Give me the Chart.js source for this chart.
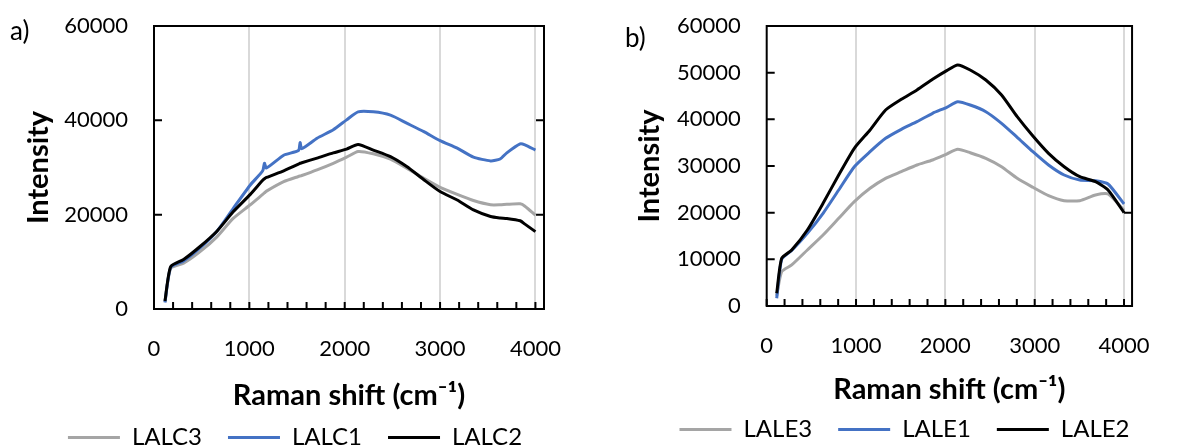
<!DOCTYPE html>
<html>
<head>
<meta charset="utf-8">
<script src="https://cdn.jsdelivr.net/npm/chart.js@4.4.1/dist/chart.umd.min.js"></script>
<style>
  body { margin: 0; background: #fff; width: 1177px; height: 448px; overflow: hidden; position: relative; font-family: Lato, sans-serif; }
  canvas { position: absolute; top: 0; }
  #chartA { left: 0; }
  #chartB { left: 632px; }
  .panel { position: absolute; font-size: 26px; color: #000; line-height: 1; }
</style>
</head>
<body>
<canvas id="chartA" width="590" height="448"></canvas>
<canvas id="chartB" width="545" height="448"></canvas>
<div class="panel" style="left:10px; top:17px;">a)</div>
<div class="panel" style="left:625px; top:24px;">b)</div>
<script>
// Datos (Raman shift en cm-1, intensidad)
const xTicks = [0, 1000, 2000, 3000, 4000];
const yTicksA = [0, 20000, 40000, 60000];
const yTicksB = [0, 10000, 20000, 30000, 40000, 50000, 60000];

// Panel a)
const shiftA = [115, 175, 310, 480, 660, 830, 1010, 1140, 1158, 1180, 1360, 1515, 1532, 1550, 1710, 1880, 2020, 2140, 2300, 2480, 2650, 2830, 3000, 3180, 3350, 3530, 3630, 3700, 3840, 3890, 4000];
const lalc3 = [1500, 8600, 9700, 12100, 15300, 19200, 22100, 24300, 24600, 25000, 27000, 28100, 28200, 28300, 29500, 30900, 32200, 33400, 32900, 31750, 29850, 27700, 25800, 24300, 23000, 22100, 22100, 22200, 22300, 21800, 19900];
const lalc1 = [1400, 8800, 10200, 12900, 16500, 21300, 26300, 29300, 30900, 29900, 32600, 33600, 35300, 34000, 36200, 38000, 40100, 41800, 41800, 41100, 39400, 37600, 35700, 34100, 32200, 31400, 31800, 33100, 35000, 34800, 33700];
const lalc2 = [1700, 9000, 10500, 13200, 16500, 20600, 24300, 27300, 27600, 27900, 29300, 30700, 30900, 31000, 32000, 33100, 33900, 34900, 33700, 32300, 30200, 27400, 24900, 23100, 21000, 19600, 19300, 19200, 18700, 18000, 16400];

// Panel b)
const shiftB = [112, 168, 280, 455, 631, 806, 981, 1157, 1331, 1507, 1682, 1857, 2015, 2138, 2278, 2453, 2629, 2804, 2980, 3155, 3330, 3505, 3681, 3821, 4000];
const lale3 = [2200, 7350, 8790, 12000, 15220, 18790, 22360, 25220, 27360, 28790, 30220, 31290, 32570, 33580, 32850, 31650, 29850, 27360, 25440, 23640, 22570, 22570, 23790, 24000, 20500];
const lale1 = [1650, 10000, 11900, 15580, 19870, 24860, 29850, 33070, 35930, 37860, 39500, 41290, 42580, 43780, 43070, 41640, 39150, 36150, 33070, 30220, 28070, 27000, 26850, 26150, 21860];
const lale2 = [2720, 10220, 12000, 16290, 22010, 28070, 33790, 37720, 42000, 44290, 46290, 48580, 50430, 51650, 50570, 48430, 45220, 40570, 36430, 32720, 29850, 27710, 26640, 24860, 20000];

const GRAY = "#a5a5a5";
const BLUE = "#4472c4";
const BLACK = "#000000";
const FONT = "Lato";
const X_MAX = 4090;
const CANVAS_H = 448;

/* Marco negro con marcas menores (como en Excel) */
const framePlugin = {
  id: "frame",
  beforeDatasetsDraw(chart) {
    const { ctx, chartArea: a, scales } = chart;
    ctx.save();
    ctx.strokeStyle = "#000";
    ctx.lineWidth = 2;
    ctx.beginPath();
    for (let v = 0; v <= 4000; v += 200) {
      const px = scales.x.getPixelForValue(v);
      ctx.moveTo(px, a.bottom);
      ctx.lineTo(px, a.bottom - 7);
    }
    scales.y.ticks.forEach((t) => {
      const py = scales.y.getPixelForValue(t.value);
      ctx.moveTo(a.left, py);
      ctx.lineTo(a.left + 8, py);
    });
    for (let v = 20000; v < 60000; v += 20000) {
      const py = scales.y.getPixelForValue(v);
      ctx.moveTo(a.right, py);
      ctx.lineTo(a.right - 8, py);
    }
    ctx.stroke();
    ctx.strokeRect(a.left, a.top, a.right - a.left, a.bottom - a.top);
    ctx.restore();
  },
};

function makeChart(canvasId, cfg) {
  const datasets = cfg.series.map((s, i) => ({
    label: s.label,
    data: cfg.x.map((v, j) => ({ x: v, y: s.values[j] })),
    borderColor: s.color,
    backgroundColor: s.color,
    borderWidth: 3,
    pointRadius: 0,
    tension: 0.2,
    order: cfg.series.length - i, // la ultima serie queda encima
  }));

  return new Chart(document.getElementById(canvasId), {
    type: "line",
    data: { datasets },
    plugins: [framePlugin],
    options: {
      responsive: false,
      animation: false,
      layout: { padding: { left: 0, right: 0, top: cfg.top, bottom: 0 } },
      plugins: {
        tooltip: { enabled: false },
        legend: {
          position: "bottom",
          maxHeight: cfg.legendH,
          labels: {
            usePointStyle: true,
            pointStyle: "line",
            pointStyleWidth: 52,
            color: "#000",
            padding: 26,
            font: { family: FONT, size: 24 },
            sort: (a, b) => a.datasetIndex - b.datasetIndex,
          },
        },
      },
      scales: {
        x: {
          type: "linear",
          min: 0,
          max: X_MAX,
          afterBuildTicks: (sc) => { sc.ticks = xTicks.map((v) => ({ value: v })); },
          afterFit: (sc) => { sc.height = CANVAS_H - sc.chart.legend.height - cfg.bottom; },
          grid: {
            color: (c) => (c.tick && c.tick.value === 0 ? "rgba(0,0,0,0)" : "#d9d9d9"),
            lineWidth: 2,
            drawTicks: false,
          },
          border: { display: false },
          ticks: { padding: 27, color: "#000", font: { family: FONT, size: 22 }, callback: (v) => String(v) },
          title: {
            display: true,
            text: "Raman shift (cm⁻¹)",
            color: "#000",
            font: { family: FONT, size: 29, weight: "bold" },
            padding: { top: 0, bottom: cfg.xTitlePad },
          },
        },
        y: {
          min: 0,
          max: 60000,
          afterBuildTicks: (sc) => { sc.ticks = cfg.yTicks.map((v) => ({ value: v })); },
          afterFit: (sc) => {
            sc.width = cfg.left;
            // sin margen extra arriba/abajo para que el area empiece en cfg.top
            sc.paddingTop = 0;
            sc.paddingBottom = 0;
          },
          grid: { display: false, drawTicks: false },
          border: { display: false },
          ticks: { padding: 26, color: "#000", font: { family: FONT, size: 22 }, callback: (v) => String(v) },
          title: {
            display: true,
            text: "Intensity",
            color: "#000",
            font: { family: FONT, size: 29, weight: "bold" },
            padding: { top: cfg.titleOffset, bottom: 0 },
          },
        },
        // eje fantasma para dejar el margen derecho
        yRight: {
          position: "right",
          afterFit: (sc) => { sc.width = cfg.rightGap; sc.paddingTop = 0; sc.paddingBottom = 0; },
          grid: { display: false },
          border: { display: false },
          ticks: { display: false },
        },
      },
    },
  });
}

makeChart("chartA", {
  x: shiftA,
  series: [
    { label: "LALC3", values: lalc3, color: GRAY },
    { label: "LALC1", values: lalc1, color: BLUE },
    { label: "LALC2", values: lalc2, color: BLACK },
  ],
  yTicks: yTicksA,
  top: 26,
  left: 154,
  rightGap: 46,
  bottom: 309,
  legendH: 48.5,
  xTitlePad: -14,
  titleOffset: 21,
});

makeChart("chartB", {
  x: shiftB,
  series: [
    { label: "LALE3", values: lale3, color: GRAY },
    { label: "LALE1", values: lale1, color: BLUE },
    { label: "LALE2", values: lale2, color: BLACK },
  ],
  yTicks: yTicksB,
  top: 26,
  left: 134.7,
  rightGap: 21,
  bottom: 306,
  legendH: 56.5,
  xTitlePad: -16,
  titleOffset: 0,
});
</script>
</body>
</html>
